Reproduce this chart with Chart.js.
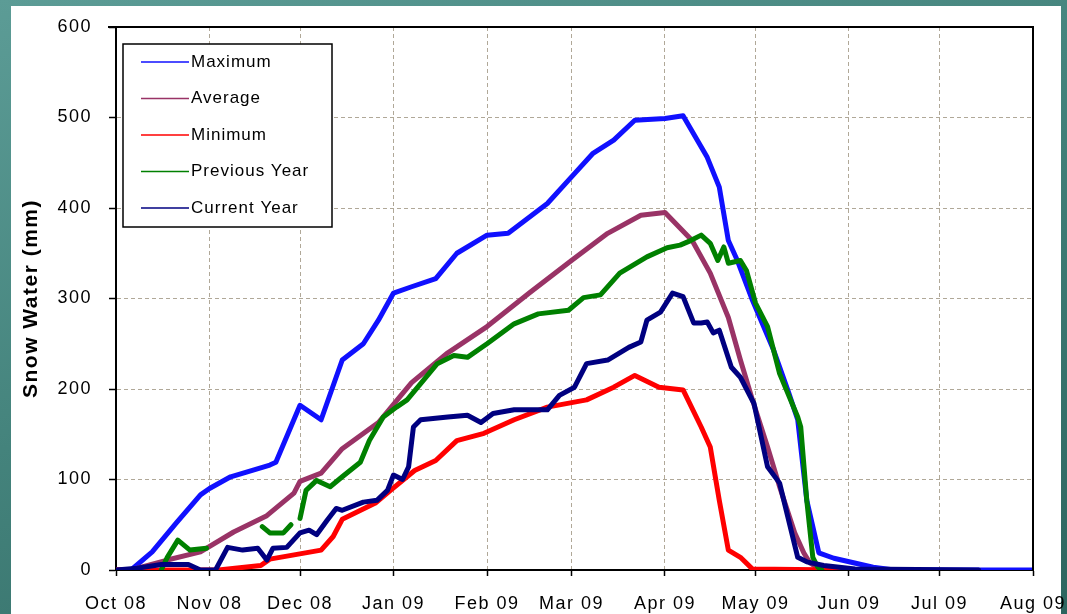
<!DOCTYPE html>
<html>
<head>
<meta charset="utf-8">
<script src="https://cdn.jsdelivr.net/npm/chart.js@4.4.1/dist/chart.umd.min.js"></script>
<style>
  html, body { margin: 0; padding: 0; width: 1067px; height: 614px; overflow: hidden;
    background: linear-gradient(160deg, #5c9c96 0%, #44837c 45%, #2d655f 100%); }
  #panel { position: absolute; left: 11px; top: 6px; width: 1050px; height: 608px; background: #fff; }
  #wrap { position: absolute; left: 0; top: 0; width: 1067px; height: 614px; }
</style>
</head>
<body>
<div id="panel"></div>
<div id="wrap"><canvas id="myChart" width="1067" height="614"></canvas></div>
<script>
// x axis = days since 1 Oct 2008
const monthDays = [0, 31, 61, 92, 123, 151, 182, 212, 243, 273, 304];
const monthLabels = ['Oct 08', 'Nov 08', 'Dec 08', 'Jan 09', 'Feb 09', 'Mar 09', 'Apr 09', 'May 09', 'Jun 09', 'Jul 09', 'Aug 09'];
const yTickValues = [0, 100, 200, 300, 400, 500, 600];

const maxDays = [0, 5, 12, 20, 28, 31, 38, 51, 53, 61, 68, 75, 82, 87, 92, 98, 106, 113, 123, 130, 143, 152, 158, 165, 172, 182, 188, 196, 200, 203, 206, 211, 218, 223, 226, 229, 233, 238, 251, 258, 304];
const maxValues = [0, 0, 20, 52, 83, 90, 103, 116, 119, 182, 166, 232, 250, 276, 306, 313, 322, 350, 370, 372, 405, 438, 460, 475, 497, 499, 502, 456, 423, 364, 342, 298, 243, 196, 166, 77, 19, 13, 3, 0, 0];

const avgDays = [0, 5, 17, 28, 39, 50, 59, 61, 68, 75, 87, 94, 98, 110, 123, 137, 151, 163, 174, 182, 191, 197, 203, 207, 211, 216, 220, 225, 228, 230, 234, 245];
const avgValues = [0, 0, 11, 20, 42, 60, 85, 98, 107, 134, 163, 191, 207, 240, 269, 306, 342, 372, 392, 395, 364, 328, 279, 232, 188, 136, 92, 41, 19, 8, 0, 0];

const minDays = [0, 34, 48, 51, 68, 72, 75, 86, 91, 99, 106, 113, 122, 132, 143, 156, 165, 172, 180, 188, 194, 197, 200, 203, 207, 211, 240];
const minValues = [0, 0, 5, 12, 22, 37, 56, 74, 88, 110, 121, 143, 151, 166, 180, 188, 202, 215, 202, 199, 158, 136, 77, 22, 14, 1, 0];

const prevDays = [15, 17, 20.5, 24.5, 30, 40, 48.5, 51, 55.5, 58, 59.5, 61, 63, 66.5, 71, 75, 81, 84, 88.6, 93, 96.5, 101, 106.5, 112, 116.5, 123, 132, 140, 150, 155, 160.6, 167, 176, 182.7, 187, 190.5, 194, 197, 199.5, 201.5, 203, 207, 209, 212, 216, 220, 226, 227, 229, 231, 232.7, 234];
const prevValues = [0, 14, 33, 22, 24, null, 48, 41, 41, 50, null, 57, 88, 99, 92, 103, 119, 143, 169, 180, 188, 206, 228, 237, 235, 250, 272, 283, 287, 301, 304, 328, 346, 356, 359, 364, 370, 361, 342, 357, 339, 342, 331, 295, 269, 217, 169, 158, 77, 14, 3, 0];

const curDays = [0, 7, 15, 24, 28, 33, 37, 42, 47, 50, 52, 56.6, 61, 64, 66.5, 70, 73, 75, 82, 86.5, 90, 92, 95, 97, 98.6, 101, 110, 116.5, 121, 125, 132, 143, 147, 152, 156, 163, 170, 174, 176, 180.5, 184.5, 188, 191.5, 194, 196, 198, 200, 204, 207, 211.5, 216, 220, 222.7, 226, 229, 234.6, 245, 286];
const curValues = [0, 2, 6, 6, 0, 0, 25, 22, 24, 11, 24, 25, 41, 44, 39, 55, 68, 66, 75, 77, 88, 105, 100, 114, 158, 166, 169, 171, 163, 173, 177, 177, 193, 202, 228, 232, 246, 252, 276, 285, 306, 302, 273, 273, 274, 262, 265, 224, 213, 184, 114, 96, 59, 14, 9, 5, 1, 0];

const toPoints = (days, vals) => days.map((d, i) => ({ x: d, y: vals[i] }));

const FONT = "'Liberation Sans', Arial, sans-serif";

const spacing = {
    id: 'spacing',
    beforeLayout(chart) { chart.ctx.letterSpacing = '1.5px'; },
    beforeDraw(chart) { chart.ctx.letterSpacing = '1.5px'; }
};

const frame = {
    id: 'frame',
    afterDatasetsDraw(chart) {
        const { ctx, chartArea: a } = chart;
        ctx.save();
        ctx.strokeStyle = '#000';
        ctx.lineWidth = 2;
        ctx.beginPath();
        ctx.moveTo(a.left - 8, a.top);
        ctx.lineTo(a.right, a.top);
        ctx.lineTo(a.right, a.bottom);
        ctx.stroke();
        ctx.restore();
    }
};

const legendBox = {
    id: 'legendBox',
    afterDraw(chart) {
        const ctx = chart.ctx;
        ctx.save();
        ctx.fillStyle = '#fff';
        ctx.fillRect(123, 44, 209, 183);
        ctx.strokeStyle = '#000';
        ctx.lineWidth = 1.5;
        ctx.strokeRect(123, 44, 209, 183);
        ctx.font = '17px ' + FONT;
        ctx.letterSpacing = '1px';
        ctx.textBaseline = 'middle';
        ctx.textAlign = 'left';
        chart.data.datasets.forEach((ds, i) => {
            const y = 62 + i * 36.5;
            ctx.strokeStyle = ds.borderColor;
            ctx.lineWidth = 1.6;
            ctx.beginPath();
            ctx.moveTo(141, y);
            ctx.lineTo(189, y);
            ctx.stroke();
            ctx.fillStyle = '#000';
            ctx.fillText(ds.label, 191, y);
        });
        ctx.restore();
    }
};

const lineStyle = { pointRadius: 0, borderWidth: 5, tension: 0, spanGaps: false,
    borderJoinStyle: 'round', borderCapStyle: 'round', fill: false };

const ctx = document.getElementById('myChart').getContext('2d');
const myChart = new Chart(ctx, {
    type: 'line',
    data: {
        datasets: [
            { label: 'Maximum', data: toPoints(maxDays, maxValues), borderColor: '#1010ff', order: 5, ...lineStyle },
            { label: 'Average', data: toPoints(avgDays, avgValues), borderColor: '#993366', order: 4, ...lineStyle },
            { label: 'Minimum', data: toPoints(minDays, minValues), borderColor: '#ff0000', order: 3, ...lineStyle },
            { label: 'Previous Year', data: toPoints(prevDays, prevValues), borderColor: '#008000', order: 2, ...lineStyle },
            { label: 'Current Year', data: toPoints(curDays, curValues), borderColor: '#000080', order: 1, ...lineStyle }
        ]
    },
    options: {
        responsive: false,
        animation: false,
        devicePixelRatio: 1,
        layout: { padding: { left: 0, top: 27, right: 34, bottom: 0 } },
        plugins: { legend: { display: false }, tooltip: { enabled: false } },
        scales: {
            x: {
                type: 'linear',
                min: 0,
                max: 304,
                afterBuildTicks: s => { s.ticks = monthDays.map(v => ({ value: v })); },
                afterFit: s => { s.height = 44; s.paddingLeft = 0; s.paddingRight = 0; },
                ticks: {
                    callback: (v, i) => monthLabels[i],
                    autoSkip: false,
                    maxRotation: 0,
                    color: '#000',
                    padding: 17,
                    font: { family: FONT, size: 18 }
                },
                grid: { color: '#b0a898', lineWidth: 1, tickLength: 6, tickColor: '#000', tickWidth: 1.5 },
                border: { display: true, color: '#000', width: 2, dash: [4, 3] }
            },
            y: {
                min: 0,
                max: 600,
                afterBuildTicks: s => { s.ticks = yTickValues.map(v => ({ value: v })); },
                afterFit: s => { s.width = 116; s.paddingTop = 0; s.paddingBottom = 0; },
                ticks: {
                    color: '#000',
                    padding: 17,
                    font: { family: FONT, size: 18 }
                },
                grid: { color: '#b0a898', lineWidth: 1, tickLength: 7, tickColor: '#000', tickWidth: 1.5 },
                border: { display: true, color: '#000', width: 2, dash: [4, 3] },
                title: {
                    display: true,
                    text: 'Snow Water (mm)',
                    color: '#000',
                    font: { family: FONT, size: 21, weight: 'bold' },
                    padding: { top: 19, bottom: 0 }
                }
            }
        }
    },
    plugins: [spacing, frame, legendBox]
});
</script>
</body>
</html>
